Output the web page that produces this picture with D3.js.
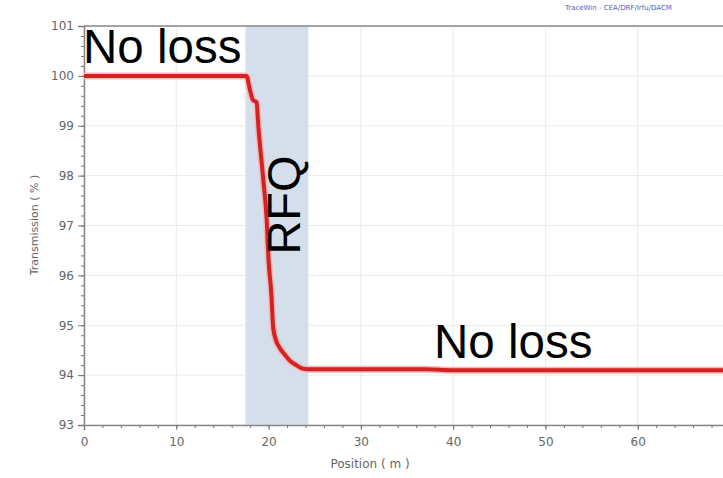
<!DOCTYPE html>
<html lang="en">
<head>
  <meta charset="UTF-8">
  <title>Transmission</title>
  <style>
    body { margin: 0; background: #fff; }
    svg { display: block; }
    .tick text { font-family: Tahoma, "DejaVu Sans", sans-serif; font-size: 12px; fill: #666; }
  </style>
  <script src="https://cdn.jsdelivr.net/npm/d3@7"></script>
</head>
<body>
<svg width="723" height="478"></svg>
<script>
// beam position (m) and transmission (%)
var position = [0, 5, 10, 15, 17.6, 18.0, 18.3, 18.7, 18.9, 19.4, 19.8, 20.0, 20.3, 20.5, 20.8, 21.2, 21.8, 22.3, 23.0, 23.7, 24.3, 30, 37, 40, 50, 60, 70];
var transmission = [100, 100, 100, 100, 100, 99.7, 99.52, 99.47, 98.97, 97.97, 97.1, 96.3, 95.63, 94.95, 94.7, 94.55, 94.4, 94.29, 94.2, 94.13, 94.12, 94.12, 94.12, 94.1, 94.1, 94.1, 94.1];
var rfqSection = [17.5, 24.3];
var xTicks = [0, 10, 20, 30, 40, 50, 60, 70];
var yTicks = [93, 94, 95, 96, 97, 98, 99, 100, 101];

var svg = d3.select("svg");
var x = d3.scaleLinear().domain([0, 70]).range([84, 730]);
var y = d3.scaleLinear().domain([93, 101]).range([425, 26]);

// grid
svg.append("g").selectAll("line").data(xTicks).enter().append("line")
    .attr("x1", d => x(d)).attr("x2", d => x(d))
    .attr("y1", y(101)).attr("y2", y(93))
    .attr("stroke", "#ebebeb");
svg.append("g").selectAll("line").data(yTicks).enter().append("line")
    .attr("x1", x(0)).attr("x2", 723)
    .attr("y1", d => y(d)).attr("y2", d => y(d))
    .attr("stroke", "#ebebeb");

// RFQ band
svg.append("rect")
    .attr("x", x(rfqSection[0]))
    .attr("width", x(rfqSection[1]) - x(rfqSection[0]))
    .attr("y", y(101)).attr("height", y(93) - y(101))
    .attr("fill", "#d4dfeb");

// top border
svg.append("line")
    .attr("x1", x(0)).attr("x2", 723)
    .attr("y1", y(101)).attr("y2", y(101))
    .attr("stroke", "#888").attr("stroke-width", 1.5);

// axes
var xAxis = svg.append("g").attr("transform", "translate(0," + y(93) + ")")
    .call(d3.axisBottom(x).tickValues(xTicks).tickSize(5).tickPadding(7));
svg.append("g").attr("transform", "translate(0," + y(93) + ")")
    .call(d3.axisBottom(x).ticks(35).tickSize(3).tickFormat(""))
    .call(g => g.select(".domain").remove());
var yAxis = svg.append("g").attr("transform", "translate(" + x(0) + ",0)")
    .call(d3.axisLeft(y).tickValues(yTicks).tickSize(6).tickPadding(4));
svg.append("g").attr("transform", "translate(" + x(0) + ",0)")
    .call(d3.axisLeft(y).ticks(40).tickSize(3).tickFormat(""))
    .call(g => g.select(".domain").remove());
svg.selectAll(".domain").attr("stroke", "#888").attr("stroke-width", 1.5);
svg.selectAll(".tick line").attr("stroke", "#777");
xAxis.selectAll(".tick text").filter(d => d === 70).remove();

// axis titles
svg.append("text")
    .attr("x", 370).attr("y", 468)
    .attr("text-anchor", "middle")
    .attr("font-family", "Tahoma, 'DejaVu Sans', sans-serif")
    .attr("font-size", 12).attr("fill", "#666")
    .text("Position ( m )");
svg.append("text")
    .attr("transform", "translate(38,225) rotate(-90)")
    .attr("text-anchor", "middle")
    .attr("font-family", "Tahoma, 'DejaVu Sans', sans-serif")
    .attr("font-size", 11).attr("fill", "#666")
    .text("Transmission ( % )");
svg.append("text")
    .attr("x", 565).attr("y", 10)
    .attr("font-family", "Tahoma, 'DejaVu Sans', sans-serif")
    .attr("font-size", 7).attr("fill", "#4a5fc0")
    .text("TraceWin - CEA/DRF/Irfu/DACM");

// curve
var pts = position.map((p, i) => [p, transmission[i]]);
var line = d3.line().x(d => x(d[0])).y(d => y(d[1])).curve(d3.curveMonotoneX);
svg.append("path").datum(pts).attr("d", line)
    .attr("fill", "none").attr("stroke", "#f4b8b8").attr("stroke-width", 7);
svg.append("path").datum(pts).attr("d", line)
    .attr("fill", "none").attr("stroke", "#d42222").attr("stroke-width", 4);

// annotations
var big = "Arial, 'Liberation Sans', sans-serif";
svg.append("text").attr("x", 83).attr("y", 63)
    .attr("font-family", big).attr("font-size", 47.5).text("No loss");
svg.append("text").attr("x", 434).attr("y", 358)
    .attr("font-family", big).attr("font-size", 47.5).text("No loss");
svg.append("text").attr("transform", "translate(300,205) rotate(-90)")
    .attr("text-anchor", "middle")
    .attr("font-family", big).attr("font-size", 47).text("RFQ");
</script>
</body>
</html>
